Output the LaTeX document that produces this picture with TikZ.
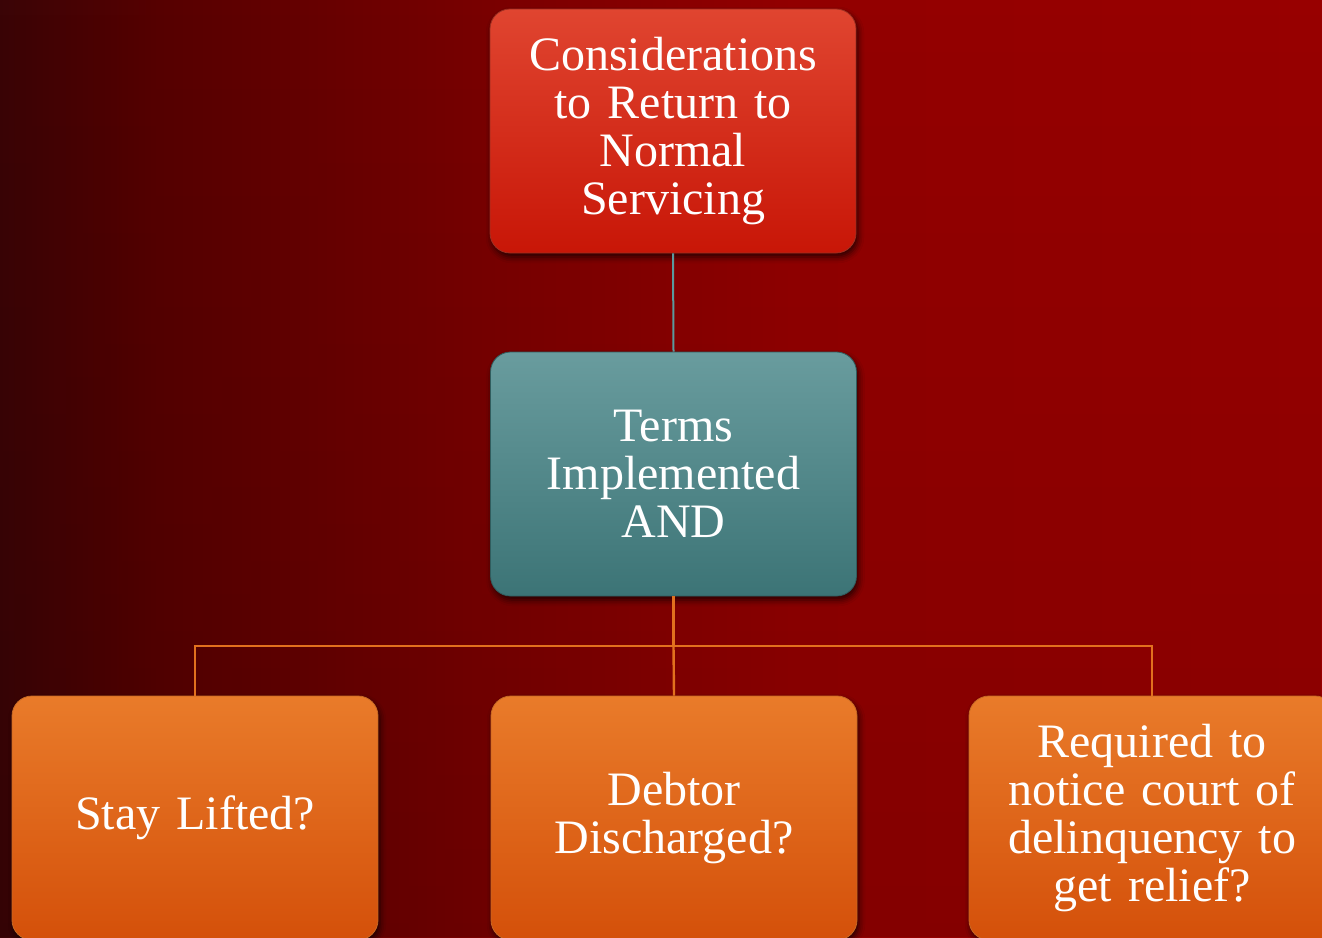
\documentclass[tikz,border=0pt]{standalone}
\usepackage{fontspec}
\setmainfont{Liberation Serif}
\usetikzlibrary{shadows.blur,fadings}
\definecolor{redT}{HTML}{E04530}
\definecolor{redB}{HTML}{C81607}
\definecolor{tealT}{HTML}{699C9E}
\definecolor{tealB}{HTML}{3C7476}
\definecolor{orT}{HTML}{E97B2A}
\definecolor{orB}{HTML}{D4500A}
\definecolor{tealLine}{HTML}{5A9A9E}
\definecolor{orLine}{HTML}{E2711E}
% backdrop: dark maroon on the left, bright crimson on the right
% (TikZ maps a path onto the 25bp--75bp band of a shading)
\pgfdeclarehorizontalshading{backdrop}{100bp}{%
  color(0bp)=(rgb,255:red,58;green,4;blue,6);
  color(25bp)=(rgb,255:red,58;green,4;blue,6);
  color(31bp)=(rgb,255:red,86;green,0;blue,0);
  color(36.5bp)=(rgb,255:red,101;green,0;blue,0);
  color(43bp)=(rgb,255:red,120;green,0;blue,0);
  color(55bp)=(rgb,255:red,146;green,0;blue,0);
  color(75bp)=(rgb,255:red,152;green,0;blue,0);
  color(100bp)=(rgb,255:red,152;green,0;blue,0)}
\begin{document}
\begin{tikzpicture}[x=1pt,y=-1pt,
  box/.style={rectangle, rounded corners=20pt, minimum width=366pt, minimum height=244pt,
    text width=350pt, align=center, text=white, inner sep=0pt,
    font=\fontsize{48}{48}\selectfont, line width=0.8pt,
    blur shadow={shadow xshift=2pt, shadow yshift=-4pt, shadow blur radius=6pt, shadow opacity=70}},
  redbox/.style={box, top color=redT, bottom color=redB, draw=redT!70!black},
  tealbox/.style={box, top color=tealT, bottom color=tealB, draw=tealB!80!black},
  orbox/.style={box, top color=orT, bottom color=orB, draw=orT!85!black},
  tealwire/.style={draw=tealLine, line width=2pt},
  orwire/.style={draw=orLine, line width=2.4pt}]
\useasboundingbox (0,0) rectangle (1322,937);
\clip (0,0) rectangle (1322,937);
\shade[shading=backdrop] (0,0) rectangle (1322,937);
\fill[black, path fading=north, opacity=0.1] (0,0) rectangle (1322,937);
% top-level and middle boxes
\node[redbox] (cons) at (673,131) {Considerations\\to Return to\\Normal\\Servicing};
\node[tealbox] (terms) at (673.5,474) {Terms\\Implemented\\AND};
% bottom row
\node[orbox] (stay) at (195,818) {Stay Lifted?};
\node[orbox] (debt) at (674,818) {Debtor\\Discharged?};
\node[orbox] (req) at (1152,818) {Required to\\notice court of\\delinquency to\\get relief?};
\coordinate (hub) at (673.5,646);
% connectors
\draw[tealwire] (cons.south) -- (terms.north);
\draw[orwire] (terms.south) -- (hub);
\draw[orwire] (hub) -| (stay.north);
\draw[orwire] (hub) -| (req.north);
\draw[orwire] (hub) -- (debt.north);
\end{tikzpicture}
\end{document}
